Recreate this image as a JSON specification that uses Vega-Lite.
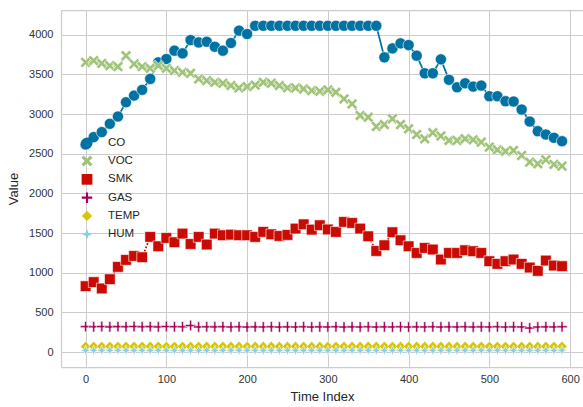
{
  "$schema": "https://vega.github.io/schema/vega-lite/v6.json",
  "autosize": "none",
  "width": 522,
  "height": 357,
  "padding": {"left": 61, "top": 10, "right": 0, "bottom": 40},
  "background": "white",
  "config": {
    "font": "Liberation Sans",
    "view": {"stroke": null},
    "axis": {
      "labelFont": "Liberation Sans",
      "titleFont": "Liberation Sans",
      "labelFontSize": 11,
      "titleFontSize": 13,
      "titleFontWeight": "normal",
      "labelColor": "#333333",
      "titleColor": "#262626",
      "gridColor": "#cccccc",
      "gridWidth": 1,
      "domainColor": "#cccccc",
      "domainWidth": 1.25,
      "ticks": false,
      "tickSize": 0
    },
    "legend": {
      "labelFont": "Liberation Sans",
      "labelFontSize": 11.5,
      "labelColor": "#262626"
    }
  },
  "data": {
    "values": [
      {"t":0,"s":"CO","v":2617},{"t":10,"s":"CO","v":2709},{"t":20,"s":"CO","v":2772},{"t":30,"s":"CO","v":2877},{"t":40,"s":"CO","v":2969},{"t":50,"s":"CO","v":3149},{"t":60,"s":"CO","v":3233},{"t":70,"s":"CO","v":3305},{"t":80,"s":"CO","v":3443},{"t":90,"s":"CO","v":3652},{"t":100,"s":"CO","v":3694},{"t":110,"s":"CO","v":3799},{"t":120,"s":"CO","v":3765},{"t":130,"s":"CO","v":3933},{"t":140,"s":"CO","v":3903},{"t":150,"s":"CO","v":3912},{"t":160,"s":"CO","v":3849},{"t":170,"s":"CO","v":3799},{"t":180,"s":"CO","v":3896},{"t":190,"s":"CO","v":4051},{"t":200,"s":"CO","v":4009},{"t":210,"s":"CO","v":4113},{"t":220,"s":"CO","v":4113},{"t":230,"s":"CO","v":4113},{"t":240,"s":"CO","v":4113},{"t":250,"s":"CO","v":4113},{"t":260,"s":"CO","v":4113},{"t":270,"s":"CO","v":4113},{"t":280,"s":"CO","v":4113},{"t":290,"s":"CO","v":4113},{"t":300,"s":"CO","v":4113},{"t":310,"s":"CO","v":4113},{"t":320,"s":"CO","v":4113},{"t":330,"s":"CO","v":4113},{"t":340,"s":"CO","v":4113},{"t":350,"s":"CO","v":4113},{"t":360,"s":"CO","v":4113},{"t":370,"s":"CO","v":3715},{"t":380,"s":"CO","v":3828},{"t":390,"s":"CO","v":3891},{"t":400,"s":"CO","v":3870},{"t":410,"s":"CO","v":3736},{"t":420,"s":"CO","v":3514},{"t":430,"s":"CO","v":3514},{"t":440,"s":"CO","v":3690},{"t":450,"s":"CO","v":3432},{"t":460,"s":"CO","v":3338},{"t":470,"s":"CO","v":3388},{"t":480,"s":"CO","v":3346},{"t":490,"s":"CO","v":3359},{"t":500,"s":"CO","v":3225},{"t":510,"s":"CO","v":3225},{"t":520,"s":"CO","v":3162},{"t":530,"s":"CO","v":3158},{"t":540,"s":"CO","v":3057},{"t":550,"s":"CO","v":2906},{"t":560,"s":"CO","v":2784},{"t":570,"s":"CO","v":2742},{"t":580,"s":"CO","v":2701},{"t":590,"s":"CO","v":2658},
      {"t":0,"s":"VOC","v":3652},{"t":10,"s":"VOC","v":3673},{"t":20,"s":"VOC","v":3639},{"t":30,"s":"VOC","v":3610},{"t":40,"s":"VOC","v":3598},{"t":50,"s":"VOC","v":3736},{"t":60,"s":"VOC","v":3631},{"t":70,"s":"VOC","v":3598},{"t":80,"s":"VOC","v":3577},{"t":90,"s":"VOC","v":3610},{"t":100,"s":"VOC","v":3577},{"t":110,"s":"VOC","v":3548},{"t":120,"s":"VOC","v":3526},{"t":130,"s":"VOC","v":3514},{"t":140,"s":"VOC","v":3443},{"t":150,"s":"VOC","v":3422},{"t":160,"s":"VOC","v":3400},{"t":170,"s":"VOC","v":3388},{"t":180,"s":"VOC","v":3359},{"t":190,"s":"VOC","v":3330},{"t":200,"s":"VOC","v":3346},{"t":210,"s":"VOC","v":3365},{"t":220,"s":"VOC","v":3400},{"t":230,"s":"VOC","v":3388},{"t":240,"s":"VOC","v":3359},{"t":250,"s":"VOC","v":3330},{"t":260,"s":"VOC","v":3330},{"t":270,"s":"VOC","v":3317},{"t":280,"s":"VOC","v":3296},{"t":290,"s":"VOC","v":3287},{"t":300,"s":"VOC","v":3305},{"t":310,"s":"VOC","v":3275},{"t":320,"s":"VOC","v":3191},{"t":330,"s":"VOC","v":3128},{"t":340,"s":"VOC","v":2982},{"t":350,"s":"VOC","v":2960},{"t":360,"s":"VOC","v":2843},{"t":370,"s":"VOC","v":2868},{"t":380,"s":"VOC","v":2940},{"t":390,"s":"VOC","v":2868},{"t":400,"s":"VOC","v":2814},{"t":410,"s":"VOC","v":2742},{"t":420,"s":"VOC","v":2688},{"t":430,"s":"VOC","v":2765},{"t":440,"s":"VOC","v":2723},{"t":450,"s":"VOC","v":2667},{"t":460,"s":"VOC","v":2667},{"t":470,"s":"VOC","v":2688},{"t":480,"s":"VOC","v":2675},{"t":490,"s":"VOC","v":2646},{"t":500,"s":"VOC","v":2583},{"t":510,"s":"VOC","v":2549},{"t":520,"s":"VOC","v":2532},{"t":530,"s":"VOC","v":2541},{"t":540,"s":"VOC","v":2478},{"t":550,"s":"VOC","v":2394},{"t":560,"s":"VOC","v":2373},{"t":570,"s":"VOC","v":2423},{"t":580,"s":"VOC","v":2365},{"t":590,"s":"VOC","v":2344},
      {"t":0,"s":"SMK","v":830},{"t":10,"s":"SMK","v":881},{"t":20,"s":"SMK","v":801},{"t":30,"s":"SMK","v":918},{"t":40,"s":"SMK","v":1073},{"t":50,"s":"SMK","v":1161},{"t":60,"s":"SMK","v":1211},{"t":70,"s":"SMK","v":1195},{"t":80,"s":"SMK","v":1451},{"t":90,"s":"SMK","v":1333},{"t":100,"s":"SMK","v":1438},{"t":110,"s":"SMK","v":1384},{"t":120,"s":"SMK","v":1493},{"t":130,"s":"SMK","v":1362},{"t":140,"s":"SMK","v":1451},{"t":150,"s":"SMK","v":1355},{"t":160,"s":"SMK","v":1493},{"t":170,"s":"SMK","v":1472},{"t":180,"s":"SMK","v":1480},{"t":190,"s":"SMK","v":1472},{"t":200,"s":"SMK","v":1472},{"t":210,"s":"SMK","v":1451},{"t":220,"s":"SMK","v":1514},{"t":230,"s":"SMK","v":1484},{"t":240,"s":"SMK","v":1463},{"t":250,"s":"SMK","v":1476},{"t":260,"s":"SMK","v":1556},{"t":270,"s":"SMK","v":1610},{"t":280,"s":"SMK","v":1543},{"t":290,"s":"SMK","v":1598},{"t":300,"s":"SMK","v":1545},{"t":310,"s":"SMK","v":1514},{"t":320,"s":"SMK","v":1640},{"t":330,"s":"SMK","v":1627},{"t":340,"s":"SMK","v":1556},{"t":350,"s":"SMK","v":1459},{"t":360,"s":"SMK","v":1274},{"t":370,"s":"SMK","v":1346},{"t":380,"s":"SMK","v":1510},{"t":390,"s":"SMK","v":1409},{"t":400,"s":"SMK","v":1333},{"t":410,"s":"SMK","v":1249},{"t":420,"s":"SMK","v":1312},{"t":430,"s":"SMK","v":1292},{"t":440,"s":"SMK","v":1166},{"t":450,"s":"SMK","v":1249},{"t":460,"s":"SMK","v":1249},{"t":470,"s":"SMK","v":1283},{"t":480,"s":"SMK","v":1271},{"t":490,"s":"SMK","v":1249},{"t":500,"s":"SMK","v":1145},{"t":510,"s":"SMK","v":1111},{"t":520,"s":"SMK","v":1145},{"t":530,"s":"SMK","v":1166},{"t":540,"s":"SMK","v":1111},{"t":550,"s":"SMK","v":1065},{"t":560,"s":"SMK","v":1023},{"t":570,"s":"SMK","v":1153},{"t":580,"s":"SMK","v":1090},{"t":590,"s":"SMK","v":1082},
      {"t":0,"s":"GAS","v":320},{"t":10,"s":"GAS","v":318},{"t":20,"s":"GAS","v":321},{"t":30,"s":"GAS","v":317},{"t":40,"s":"GAS","v":320},{"t":50,"s":"GAS","v":319},{"t":60,"s":"GAS","v":322},{"t":70,"s":"GAS","v":318},{"t":80,"s":"GAS","v":320},{"t":90,"s":"GAS","v":317},{"t":100,"s":"GAS","v":321},{"t":110,"s":"GAS","v":319},{"t":120,"s":"GAS","v":318},{"t":130,"s":"GAS","v":334},{"t":140,"s":"GAS","v":316},{"t":150,"s":"GAS","v":318},{"t":160,"s":"GAS","v":317},{"t":170,"s":"GAS","v":319},{"t":180,"s":"GAS","v":316},{"t":190,"s":"GAS","v":318},{"t":200,"s":"GAS","v":315},{"t":210,"s":"GAS","v":317},{"t":220,"s":"GAS","v":316},{"t":230,"s":"GAS","v":318},{"t":240,"s":"GAS","v":315},{"t":250,"s":"GAS","v":317},{"t":260,"s":"GAS","v":316},{"t":270,"s":"GAS","v":318},{"t":280,"s":"GAS","v":315},{"t":290,"s":"GAS","v":317},{"t":300,"s":"GAS","v":316},{"t":310,"s":"GAS","v":318},{"t":320,"s":"GAS","v":315},{"t":330,"s":"GAS","v":317},{"t":340,"s":"GAS","v":316},{"t":350,"s":"GAS","v":318},{"t":360,"s":"GAS","v":315},{"t":370,"s":"GAS","v":317},{"t":380,"s":"GAS","v":316},{"t":390,"s":"GAS","v":318},{"t":400,"s":"GAS","v":315},{"t":410,"s":"GAS","v":317},{"t":420,"s":"GAS","v":316},{"t":430,"s":"GAS","v":318},{"t":440,"s":"GAS","v":315},{"t":450,"s":"GAS","v":317},{"t":460,"s":"GAS","v":316},{"t":470,"s":"GAS","v":318},{"t":480,"s":"GAS","v":315},{"t":490,"s":"GAS","v":317},{"t":500,"s":"GAS","v":316},{"t":510,"s":"GAS","v":318},{"t":520,"s":"GAS","v":315},{"t":530,"s":"GAS","v":317},{"t":540,"s":"GAS","v":316},{"t":550,"s":"GAS","v":302},{"t":560,"s":"GAS","v":315},{"t":570,"s":"GAS","v":317},{"t":580,"s":"GAS","v":316},{"t":590,"s":"GAS","v":318},
      {"t":0,"s":"TEMP","v":70},{"t":10,"s":"TEMP","v":71},{"t":20,"s":"TEMP","v":70},{"t":30,"s":"TEMP","v":71},{"t":40,"s":"TEMP","v":70},{"t":50,"s":"TEMP","v":71},{"t":60,"s":"TEMP","v":70},{"t":70,"s":"TEMP","v":71},{"t":80,"s":"TEMP","v":70},{"t":90,"s":"TEMP","v":71},{"t":100,"s":"TEMP","v":70},{"t":110,"s":"TEMP","v":71},{"t":120,"s":"TEMP","v":70},{"t":130,"s":"TEMP","v":71},{"t":140,"s":"TEMP","v":70},{"t":150,"s":"TEMP","v":71},{"t":160,"s":"TEMP","v":70},{"t":170,"s":"TEMP","v":71},{"t":180,"s":"TEMP","v":70},{"t":190,"s":"TEMP","v":71},{"t":200,"s":"TEMP","v":70},{"t":210,"s":"TEMP","v":71},{"t":220,"s":"TEMP","v":70},{"t":230,"s":"TEMP","v":71},{"t":240,"s":"TEMP","v":70},{"t":250,"s":"TEMP","v":71},{"t":260,"s":"TEMP","v":70},{"t":270,"s":"TEMP","v":71},{"t":280,"s":"TEMP","v":70},{"t":290,"s":"TEMP","v":71},{"t":300,"s":"TEMP","v":70},{"t":310,"s":"TEMP","v":71},{"t":320,"s":"TEMP","v":70},{"t":330,"s":"TEMP","v":71},{"t":340,"s":"TEMP","v":70},{"t":350,"s":"TEMP","v":71},{"t":360,"s":"TEMP","v":70},{"t":370,"s":"TEMP","v":71},{"t":380,"s":"TEMP","v":70},{"t":390,"s":"TEMP","v":71},{"t":400,"s":"TEMP","v":70},{"t":410,"s":"TEMP","v":71},{"t":420,"s":"TEMP","v":70},{"t":430,"s":"TEMP","v":71},{"t":440,"s":"TEMP","v":70},{"t":450,"s":"TEMP","v":71},{"t":460,"s":"TEMP","v":70},{"t":470,"s":"TEMP","v":71},{"t":480,"s":"TEMP","v":70},{"t":490,"s":"TEMP","v":71},{"t":500,"s":"TEMP","v":70},{"t":510,"s":"TEMP","v":71},{"t":520,"s":"TEMP","v":70},{"t":530,"s":"TEMP","v":71},{"t":540,"s":"TEMP","v":70},{"t":550,"s":"TEMP","v":71},{"t":560,"s":"TEMP","v":70},{"t":570,"s":"TEMP","v":71},{"t":580,"s":"TEMP","v":70},{"t":590,"s":"TEMP","v":71},
      {"t":0,"s":"HUM","v":20},{"t":10,"s":"HUM","v":21},{"t":20,"s":"HUM","v":20},{"t":30,"s":"HUM","v":21},{"t":40,"s":"HUM","v":20},{"t":50,"s":"HUM","v":21},{"t":60,"s":"HUM","v":20},{"t":70,"s":"HUM","v":21},{"t":80,"s":"HUM","v":20},{"t":90,"s":"HUM","v":21},{"t":100,"s":"HUM","v":20},{"t":110,"s":"HUM","v":21},{"t":120,"s":"HUM","v":20},{"t":130,"s":"HUM","v":21},{"t":140,"s":"HUM","v":20},{"t":150,"s":"HUM","v":21},{"t":160,"s":"HUM","v":20},{"t":170,"s":"HUM","v":21},{"t":180,"s":"HUM","v":20},{"t":190,"s":"HUM","v":21},{"t":200,"s":"HUM","v":20},{"t":210,"s":"HUM","v":21},{"t":220,"s":"HUM","v":20},{"t":230,"s":"HUM","v":21},{"t":240,"s":"HUM","v":20},{"t":250,"s":"HUM","v":21},{"t":260,"s":"HUM","v":20},{"t":270,"s":"HUM","v":21},{"t":280,"s":"HUM","v":20},{"t":290,"s":"HUM","v":21},{"t":300,"s":"HUM","v":20},{"t":310,"s":"HUM","v":21},{"t":320,"s":"HUM","v":20},{"t":330,"s":"HUM","v":21},{"t":340,"s":"HUM","v":20},{"t":350,"s":"HUM","v":21},{"t":360,"s":"HUM","v":20},{"t":370,"s":"HUM","v":21},{"t":380,"s":"HUM","v":20},{"t":390,"s":"HUM","v":21},{"t":400,"s":"HUM","v":20},{"t":410,"s":"HUM","v":21},{"t":420,"s":"HUM","v":20},{"t":430,"s":"HUM","v":21},{"t":440,"s":"HUM","v":20},{"t":450,"s":"HUM","v":21},{"t":460,"s":"HUM","v":20},{"t":470,"s":"HUM","v":21},{"t":480,"s":"HUM","v":20},{"t":490,"s":"HUM","v":21},{"t":500,"s":"HUM","v":20},{"t":510,"s":"HUM","v":21},{"t":520,"s":"HUM","v":20},{"t":530,"s":"HUM","v":21},{"t":540,"s":"HUM","v":20},{"t":550,"s":"HUM","v":21},{"t":560,"s":"HUM","v":20},{"t":570,"s":"HUM","v":21},{"t":580,"s":"HUM","v":20},{"t":590,"s":"HUM","v":21}
    ]
  },
  "layer": [
    {
      "mark": {"type": "line", "strokeWidth": 1.75},
      "encoding": {
        "x": {"field": "t", "type": "quantitative", "scale": {"domain": [-30.5, 616], "nice": false, "zero": false},
              "axis": {"orient": "bottom", "title": "Time Index", "values": [0,100,200,300,400,500,600], "format": "d", "labelPadding": 6, "titlePadding": 6, "grid": true}},
        "y": {"field": "v", "type": "quantitative", "scale": {"domain": [-189, 4312], "nice": false, "zero": false},
              "axis": {"title": "Value", "values": [0,500,1000,1500,2000,2500,3000,3500,4000], "format": "d", "labelPadding": 8, "titlePadding": 8, "grid": true}},
        "color": {"field": "s", "type": "nominal", "scale": {"domain": ["CO","VOC","SMK","GAS","TEMP","HUM"], "range": ["#0272a2","#9fc377","#ca0b03","#a50258","#d7c703","#88cee6"]},
                  "legend": {"title": null, "orient": "none", "legendX": 20, "legendY": 127, "padding": 0, "rowPadding": 5.3, "labelOffset": 15, "symbolSize": 110, "symbolStrokeWidth": 0}},
        "strokeDash": {"field": "s", "type": "nominal", "scale": {"domain": ["CO","VOC","SMK","GAS","TEMP","HUM"], "range": [[1,0],[7,2.6],[1.75,1.75],[5.25,2.2,2.6,2.2],[8.75,1.75,1.75,1.75],[5.25,2.2,2.2,2.2,2.2,2.2]]}}
      }
    },
    {
      "mark": {"type": "point", "filled": true, "opacity": 1, "stroke": "white", "strokeWidth": 0.6},
      "encoding": {
        "x": {"field": "t", "type": "quantitative", "axis": {"orient": "top", "labels": false, "grid": false, "title": null, "domain": true, "ticks": false}},
        "y": {"field": "v", "type": "quantitative"},
        "color": {"field": "s", "type": "nominal"},
        "shape": {"field": "s", "type": "nominal", "scale": {"domain": ["CO","VOC","SMK","GAS","TEMP","HUM"], "range": ["circle","M-1,-0.6L-0.6,-1L0,-0.4L0.6,-1L1,-0.6L0.4,0L1,0.6L0.6,1L0,0.4L-0.6,1L-1,0.6L-0.4,0Z","square","M-0.2,-1L0.2,-1L0.2,-0.2L1,-0.2L1,0.2L0.2,0.2L0.2,1L-0.2,1L-0.2,0.2L-1,0.2L-1,-0.2L-0.2,-0.2Z","diamond","M0,-1L0.28,-0.28L1,0L0.28,0.28L0,1L-0.28,0.28L-1,0L-0.28,-0.28Z"]}},
        "size": {"field": "s", "type": "nominal", "legend": null, "scale": {"domain": ["CO","VOC","SMK","GAS","TEMP","HUM"], "range": [125,100,70,110,80,80]}}
      }
    }
  ],
  "resolve": {"axis": {"x": "independent"}}
}
